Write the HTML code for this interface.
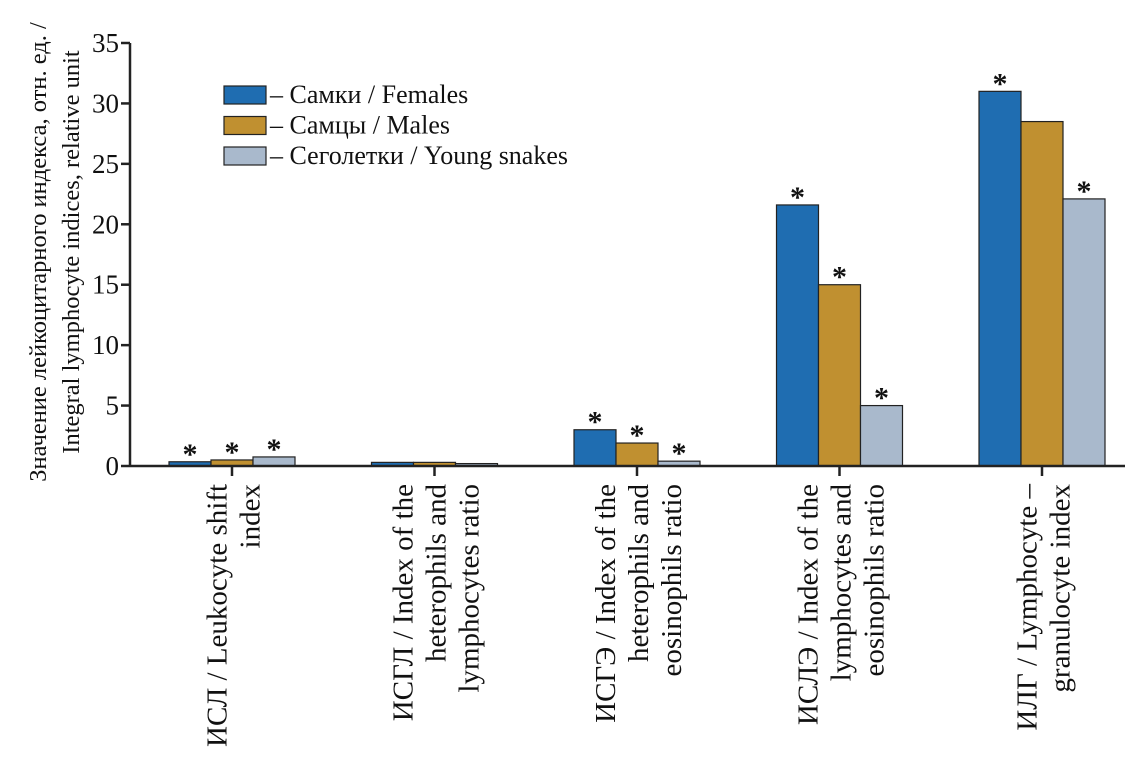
<!DOCTYPE html>
<html><head><meta charset="utf-8"><style>
body{margin:0;background:#fff;}
svg text{font-family:"Liberation Serif","Noto Serif CJK SC",serif;fill:#111;}
</style></head><body>
<svg id="chart" width="1140" height="764" xmlns="http://www.w3.org/2000/svg"></svg>
<script>
const categories=[["ИСЛ / Leukocyte shift","index"],["ИСГЛ / Index of the","heterophils and","lymphocytes ratio"],["ИСГЭ / Index of the","heterophils and","eosinophils ratio"],["ИСЛЭ / Index of the","lymphocytes and","eosinophils ratio"],["ИЛГ / Lymphocyte –","granulocyte index"]];
const females=[0.35,0.3,3.0,21.6,31.0];
const males=[0.5,0.3,1.9,15.0,28.5];
const young=[0.75,0.2,0.4,5.0,22.1];
const femalesSig=[1,0,1,1,1];
const malesSig=[1,0,1,1,0];
const youngSig=[1,0,1,1,1];
const yTicks=[0,5,10,15,20,25,30,35];
const seriesNames=["– Самки / Females","– Самцы / Males","– Сеголетки / Young snakes"];

const svg=document.getElementById('chart');
const NS='http://www.w3.org/2000/svg';
function mk(tag,attrs,parent){const e=document.createElementNS(NS,tag);for(const k in attrs)e.setAttribute(k,attrs[k]);(parent||svg).appendChild(e);return e;}
const y0=466,y35=43,xAxis=130,xRight=1125;
const y=v=>y0-(y0-y35)*v/35;
const xc=i=>232+i*202.5;
const bw=42;
const colors=["#1f6db1","#c09030","#a9b9cc"];
const series=[females,males,young];
const sigs=[femalesSig,malesSig,youngSig];

let ax=mk('line',{x1:xAxis,y1:y35,x2:xAxis,y2:y0,stroke:'#222','stroke-width':2.5});


yTicks.forEach(t=>{
  let l=mk('line',{x1:xAxis-9,y1:y(t),x2:xAxis,y2:y(t),stroke:'#222','stroke-width':2.5});
  
  
  let tx=mk('text',{x:xAxis-11,y:y(t)+9,'text-anchor':'end','font-size':27});
  tx.textContent=t;
  
  
});
series.forEach((s,si)=>{
  s.forEach((v,i)=>{
    const x=xc(i)-63+si*bw;
    let r=mk('rect',{x:x,y:y(v),width:bw,height:y0-y(v),fill:colors[si],stroke:'#222','stroke-width':1.2});
    
    
    if(sigs[si][i]){
      let a=mk('text',{x:x+bw/2,y:y(v)+2,'text-anchor':'middle','font-size':30,'font-weight':'bold'});
      a.textContent='*';
      
      
    }
  });
});
let xa=mk('line',{x1:xAxis,y1:y0,x2:xRight,y2:y0,stroke:'#222','stroke-width':2.5});


categories.forEach((lines,i)=>{
  let t=mk('line',{x1:xc(i),y1:y0,x2:xc(i),y2:y0+10,stroke:'#222','stroke-width':2.5});
  
  
  const n=lines.length;
  lines.forEach((ln,j)=>{
    const bx=xc(i)+2+(j-(n-1)/2)*33+9;
    let tx=mk('text',{x:0,y:0,'text-anchor':'end','font-size':29,transform:`translate(${bx},484) rotate(-90)`});
    tx.textContent=ln;
    
    
  });
});
[["Значение лейкоцитарного индекса, отн. ед. /",46],["Integral lymphocyte indices, relative unit",79]].forEach(([s,bx])=>{
  let tx=mk('text',{x:0,y:0,'text-anchor':'middle','font-size':24.5,transform:`translate(${bx},252) rotate(-90)`});
  tx.textContent=s;
  
  
});
seriesNames.forEach((s,i)=>{
  const ly=86+i*30.5;
  let r=mk('rect',{x:224,y:ly,width:42,height:18,fill:colors[i],stroke:'#222','stroke-width':1.2});
  
  
  let tx=mk('text',{x:270,y:ly+17,'font-size':26});
  tx.textContent=s;
  
  
});
</script>
</body></html>
